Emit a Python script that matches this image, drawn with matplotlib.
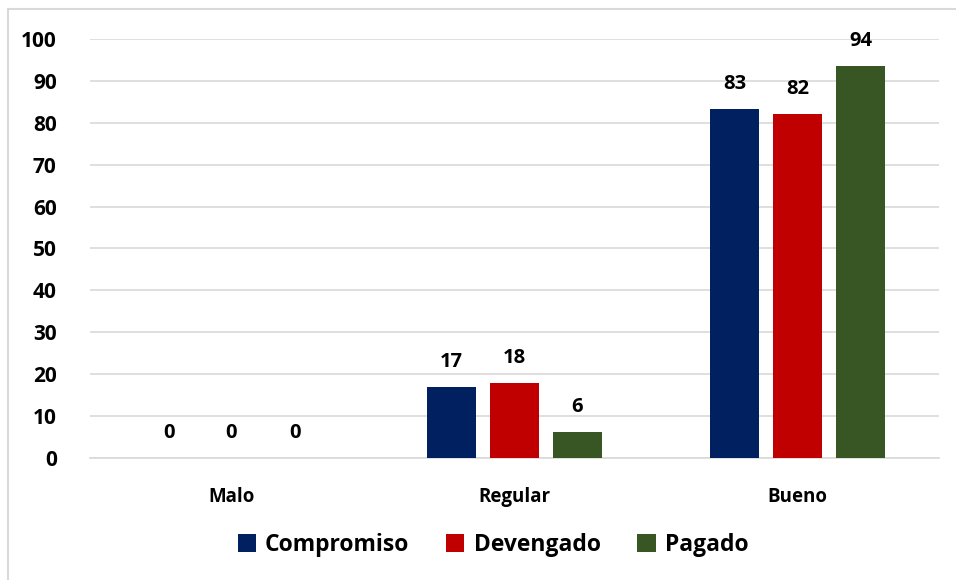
import matplotlib
matplotlib.use("Agg")
import matplotlib.pyplot as plt
import numpy as np
from matplotlib.patches import Rectangle

categories = ["Malo", "Regular", "Bueno"]
series_names = ["Compromiso", "Devengado", "Pagado"]
compromiso = [0, 16.9, 83.2]
devengado = [0, 17.8, 82.0]
pagado = [0, 6.3, 93.6]
colors = ["#002060", "#C00000", "#375623"]
yticks = [0, 10, 20, 30, 40, 50, 60, 70, 80, 90, 100]

plt.rcParams['font.family'] = ['Open Sans', 'DejaVu Sans']

fig = plt.figure(figsize=(9.56, 5.8), dpi=100)
fig.patch.set_facecolor("white")
# outer border
fig.patches.append(Rectangle((8/956, -0.01), 1.0, 1 - 9/580 + 0.01, transform=fig.transFigure,
                             fill=False, edgecolor="#d9d9d9", linewidth=1.5))

ax = fig.add_axes([90/956, 1 - 458/580, (939 - 90)/956, (458 - 39)/580])
x = np.arange(len(categories))
width = 49/283
step = 63/283
series = [compromiso, devengado, pagado]
for i, (name, vals, c) in enumerate(zip(series_names, series, colors)):
    pos = x + (i - 1) * step
    ax.bar(pos, vals, width=width, color=c, label=name, zorder=3)
    for p, v in zip(pos, vals):
        ax.text(p, v + 3.6, f"{v:.0f}", ha="center", va="bottom", fontsize=14.5,
                fontweight="bold", clip_on=False)

ax.set_xlim(-0.5, 2.5)
ax.set_ylim(0, 100)
ax.set_yticks(yticks)
ax.set_yticklabels([str(t) for t in yticks], fontsize=15, fontweight="bold")
ax.set_xticks(x)
ax.set_xticklabels(categories, fontsize=13.5, fontweight="bold")
ax.tick_params(axis="y", length=0, pad=24)
ax.tick_params(axis="x", length=0, pad=21)
ax.grid(axis="y", color="#d9d9d9", linewidth=1.2, zorder=0)
for s in ["top", "right", "left"]:
    ax.spines[s].set_visible(False)
ax.spines["bottom"].set_color("#d9d9d9")
ax.spines["bottom"].set_linewidth(1.2)
ax.set_facecolor("white")

leg = fig.legend(loc="center", bbox_to_anchor=(493/956, 1 - 545/580), ncol=3, frameon=False,
                 prop={"size": 16.5, "weight": "bold"}, handlelength=0.8, handleheight=0.8,
                 handletextpad=0.4, columnspacing=1.6)

fig.savefig("out.png", dpi=100)
